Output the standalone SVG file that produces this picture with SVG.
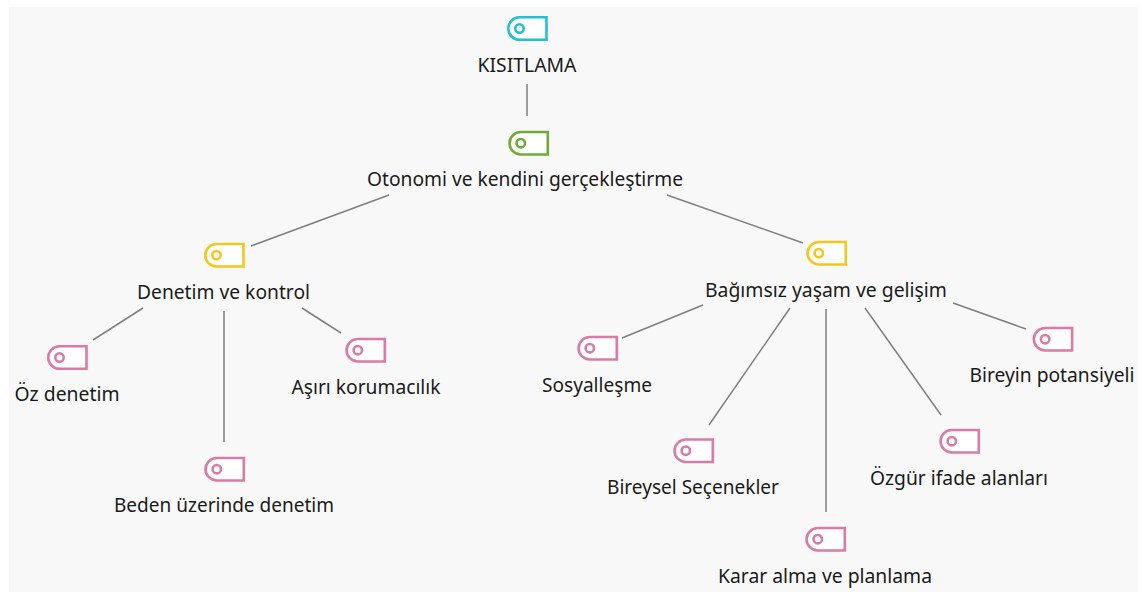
<svg xmlns="http://www.w3.org/2000/svg" width="1142" height="592" viewBox="0 0 1142 592">
<style>
.bg{fill:#f8f8f8}
.lbl{font-family:"Noto Sans","Open Sans","Liberation Sans",sans-serif;font-size:19px;fill:#1a1a1a;text-anchor:middle}
.con line{stroke:#7f7f7f;stroke-width:1.5;fill:none}
.tag{fill:#fff;stroke-width:2.6}
.dot{fill:none;stroke-width:2.6}
.cyan{stroke:#1fc1d2}.green{stroke:#70ab35}.yellow{stroke:#f2c81e}.pink{stroke:#d87ca6}
</style>
<defs>
<g id="t"><path class="tag" d="M11.5 0H38.5V22.500H11.500A11.250 11.250 0 0 1 11.500 0Z"/><circle class="dot" cx="11.500" cy="11.200" r="4.200"/></g>
</defs>
<rect class="bg" x="9" y="7" width="1129" height="585"/>
<g id="connectors" class="con">
<line x1="527" y1="84" x2="527" y2="116"/>
<line x1="389" y1="195" x2="251" y2="246"/>
<line x1="667" y1="195" x2="803" y2="243"/>
<line x1="143" y1="308" x2="93" y2="340"/>
<line x1="224" y1="311" x2="224" y2="442"/>
<line x1="302" y1="308" x2="341" y2="333"/>
<line x1="703" y1="305" x2="622" y2="338"/>
<line x1="790" y1="308" x2="709" y2="425"/>
<line x1="826" y1="309" x2="826" y2="512"/>
<line x1="865" y1="308" x2="941" y2="415"/>
<line x1="953" y1="303" x2="1026" y2="329"/>
</g>
<g id="n1"><use href="#t" class="cyan" x="508" y="17.300"/><text class="lbl" x="527" y="72" textLength="99" lengthAdjust="spacingAndGlyphs">KISITLAMA</text></g>
<g id="n2"><use href="#t" class="green" x="509.300" y="132"/><text class="lbl" x="525" y="186" textLength="316" lengthAdjust="spacingAndGlyphs">Otonomi ve kendini gerçekleştirme</text></g>
<g id="n3"><use href="#t" class="yellow" x="205" y="244"/><text class="lbl" x="223.500" y="299" textLength="173" lengthAdjust="spacingAndGlyphs">Denetim ve kontrol</text></g>
<g id="n4"><use href="#t" class="yellow" x="807.300" y="242"/><text class="lbl" x="826" y="297" textLength="242" lengthAdjust="spacingAndGlyphs">Bağımsız yaşam ve gelişim</text></g>
<g id="n5"><use href="#t" class="pink" x="48" y="346.300"/><text class="lbl" x="67" y="401" textLength="105" lengthAdjust="spacingAndGlyphs">Öz denetim</text></g>
<g id="n6"><use href="#t" class="pink" x="205.300" y="458"/><text class="lbl" x="224" y="512" textLength="220" lengthAdjust="spacingAndGlyphs">Beden üzerinde denetim</text></g>
<g id="n7"><use href="#t" class="pink" x="346.300" y="339"/><text class="lbl" x="366" y="394" textLength="149" lengthAdjust="spacingAndGlyphs">Aşırı korumacılık</text></g>
<g id="n8"><use href="#t" class="pink" x="578.300" y="337"/><text class="lbl" x="597" y="392" textLength="110" lengthAdjust="spacingAndGlyphs">Sosyalleşme</text></g>
<g id="n9"><use href="#t" class="pink" x="674.300" y="439.500"/><text class="lbl" x="693" y="494" textLength="172" lengthAdjust="spacingAndGlyphs">Bireysel Seçenekler</text></g>
<g id="n10"><use href="#t" class="pink" x="806.300" y="528"/><text class="lbl" x="825" y="583" textLength="214" lengthAdjust="spacingAndGlyphs">Karar alma ve planlama</text></g>
<g id="n11"><use href="#t" class="pink" x="940.300" y="430"/><text class="lbl" x="959" y="485" textLength="178" lengthAdjust="spacingAndGlyphs">Özgür ifade alanları</text></g>
<g id="n12"><use href="#t" class="pink" x="1033.600" y="328"/><text class="lbl" x="1052" y="382" textLength="165" lengthAdjust="spacingAndGlyphs">Bireyin potansiyeli</text></g>
</svg>
